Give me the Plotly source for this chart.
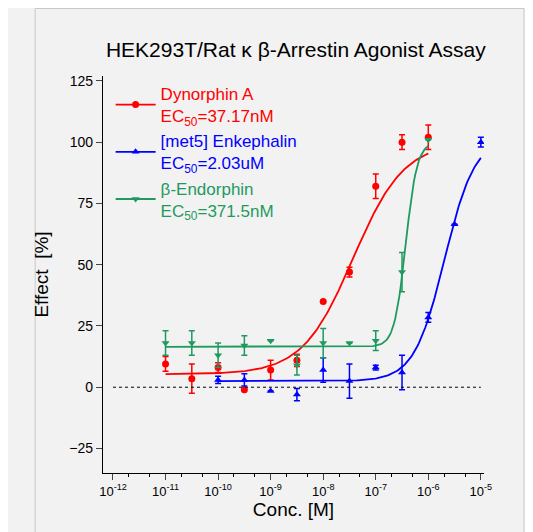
import numpy as np
import plotly.graph_objects as go

log_conc = [-11, -10.5, -10, -9.5, -9, -8.5, -8, -7.5, -7, -6.5, -6, -5.5, -5]

dyn_y = [9.5, 3.5, 8, -1, 7, 11, 35, 47, 82, 100, 102]
dyn_err = [3, 6, 2, 0, 4, 2.5, 0, 2, 5, 3, 5]
dyn_fit = dict(bottom=5.3, top=100, logec50=-7.43, hill=0.9, lo=-11, hi=-6)

enk_y = [3, 3, -1.5, -3, 7, 2.5, 8, 6, 28.5, 66.5, 100]
enk_err = [1.5, 2.5, 0, 2.5, 5, 7, 1, 7, 2, 0, 2]
enk_fit = dict(bottom=2.5, top=102, logec50=-5.69, hill=1.5, lo=-10, hi=-5)

end_y = [18, 18, 13, 17, 19, 9, 18, 18, 19, 47, 101]
end_err = [5, 5, 5, 4, 0, 4, 6, 0, 4, 8, 0]
end_fit = dict(bottom=16.5, top=100, logec50=-6.43, hill=4.0, lo=-11, hi=-6)

series = [
    ("Dynorphin A", "37.17nM", "#ff0000", "circle", log_conc[0:11], dyn_y, dyn_err, dyn_fit),
    ("[met5] Enkephalin", "2.03uM", "#0000ff", "triangle-up", log_conc[2:13], enk_y, enk_err, enk_fit),
    ("β-Endorphin", "371.5nM", "#1f9a5f", "triangle-down", log_conc[0:11], end_y, end_err, end_fit),
]

fig = go.Figure()
for name, ec, col, sym, lx, y, err, p in series:
    xs = np.linspace(p["lo"], p["hi"], 200)
    ys = p["bottom"] + (p["top"] - p["bottom"]) / (1 + 10 ** ((p["logec50"] - xs) * p["hill"]))
    fig.add_trace(go.Scatter(x=10 ** xs, y=ys, mode="lines", line=dict(color=col, width=1.8),
                             showlegend=False, hoverinfo="skip"))
    fig.add_trace(go.Scatter(x=[10 ** v for v in lx], y=y, mode="markers",
                             marker=dict(color=col, symbol=sym, size=7),
                             error_y=dict(type="data", array=err, color=col, thickness=1.5, width=3),
                             showlegend=False))
    fig.add_trace(go.Scatter(x=[None], y=[None], mode="lines+markers",
                             line=dict(color=col, width=1.8), marker=dict(color=col, symbol=sym, size=7),
                             name=f"<span style='color:{col}'>{name}<br>EC<sub>50</sub>={ec}</span>"))

fig.add_shape(type="line", xref="x", yref="y", x0=1e-12, x1=1e-5, y0=0, y1=0,
              line=dict(color="black", width=1, dash="dot"))
fig.add_shape(type="rect", xref="paper", yref="paper", x0=-0.178, x1=1.105, y0=-0.168, y1=1.17,
              line=dict(color="#c8c8c8", width=1))

xt = list(range(-12, -4))
fig.update_xaxes(type="log", range=[-12.19, -4.94], tickvals=[10 ** v for v in xt],
                 ticktext=[f"10<sup>{v}</sup>" for v in xt], ticks="outside", ticklen=6,
                 showline=True, linecolor="black", linewidth=1.2, showgrid=False, zeroline=False,
                 minor=dict(ticks="outside", ticklen=3, tickcolor="black", showgrid=False),
                 title=dict(text="Conc. [M]", standoff=4), tickfont=dict(size=13))
fig.update_yaxes(range=[-35, 127], tickvals=[-25, 0, 25, 50, 75, 100, 125], ticks="outside", ticklen=6,
                 showline=True, linecolor="black", linewidth=1.2, showgrid=False, zeroline=False,
                 title=dict(text="Effect  [%]"), tickfont=dict(size=14))

fig.update_layout(
    width=533, height=532,
    paper_bgcolor="#f2f2f2", plot_bgcolor="#f2f2f2",
    font=dict(family="Liberation Sans, Arial", size=16, color="black"),
    title=dict(text="HEK293T/Rat κ β-Arrestin Agonist Assay", x=0.54, xanchor="center", y=0.935,
               font=dict(size=21)),
    margin=dict(l=95, r=57, t=68, b=67, autoexpand=False),
    legend=dict(x=0.02, y=1.0, xanchor="left", yanchor="top", bgcolor="rgba(0,0,0,0)",
                font=dict(size=17), tracegroupgap=22, itemwidth=40),
)

fig.write_html("out.html")
